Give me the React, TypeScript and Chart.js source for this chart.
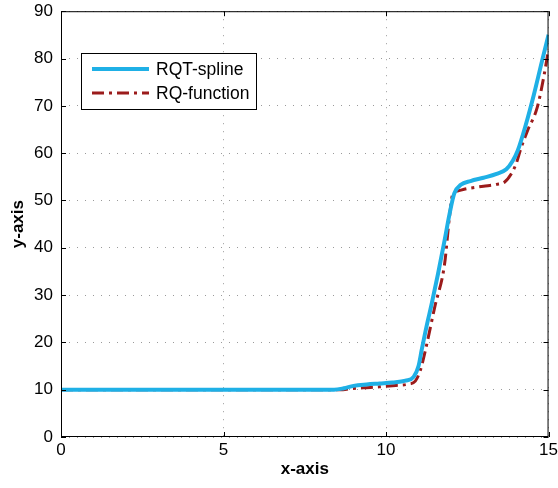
import React, { useEffect, useRef } from "react";
import { Chart, registerables } from "chart.js";

Chart.register(...registerables);

const splineX = [0, 8.4, 8.7, 9.0, 9.4, 9.8, 10.2, 10.6, 10.85, 11.0, 11.1, 11.25, 11.4, 11.6, 11.8, 11.95, 12.1, 12.3, 12.6, 13.0, 13.4, 13.7, 13.9, 14.05, 14.3, 14.55, 14.8, 15];
const splineY = [10, 10, 10.3, 10.8, 11.1, 11.3, 11.5, 11.9, 12.7, 15, 18.5, 23.5, 28, 34.5, 41.5, 47, 51.5, 53.3, 54.1, 54.8, 55.6, 56.6, 58.4, 60.5, 66, 72.4, 79.5, 85];

const funcX = [0, 8.6, 8.9, 9.3, 9.8, 10.3, 10.7, 10.9, 11.05, 11.2, 11.5, 11.8, 11.95, 12.05, 12.2, 12.5, 13.0, 13.4, 13.65, 13.85, 14.0, 14.15, 14.35, 14.65, 14.85, 15];
const funcY = [10, 10, 10.2, 10.4, 10.6, 10.9, 11.2, 11.8, 14, 18, 27.5, 36.5, 46.4, 51.3, 52.0, 52.5, 53.0, 53.4, 53.9, 55.6, 57.7, 61, 64.7, 69.6, 76, 82];

const xTicks = [0, 5, 10, 15];
const yTicks = [0, 10, 20, 30, 40, 50, 60, 70, 80, 90];
const seriesNames = ["RQT-spline", "RQ-function"];

const BLUE = "#1fb0e6";
const RED = "#9b1b1b";
const RED_DASH = [12, 5, 3, 5];
const FONT = "'Liberation Sans', Arial, sans-serif";
const OFFSET_Y = 7;

const framePlugin = {
  id: "frame",
  afterDatasetsDraw(chart: any) {
    const { ctx, chartArea } = chart;
    const { left, right, top, bottom } = chartArea;
    const xs = chart.scales.x;
    const ys = chart.scales.y;
    ctx.save();
    ctx.strokeStyle = "#000";
    ctx.lineWidth = 1;
    ctx.setLineDash([]);
    ctx.strokeRect(left + 0.5, top + 0.5, right - left - 1, bottom - top - 1);
    const tl = 5;
    ctx.beginPath();
    for (const v of xTicks) {
      const px = Math.round(xs.getPixelForValue(v)) + 0.5;
      ctx.moveTo(px, bottom);
      ctx.lineTo(px, bottom - tl);
      ctx.moveTo(px, top);
      ctx.lineTo(px, top + tl);
    }
    for (const v of yTicks) {
      const py = Math.round(ys.getPixelForValue(v)) + 0.5;
      ctx.moveTo(left, py);
      ctx.lineTo(left + tl, py);
      ctx.moveTo(right, py);
      ctx.lineTo(right - tl, py);
    }
    ctx.stroke();

    // legend box (page coordinates shifted by canvas offset)
    const oy = OFFSET_Y;
    const bx = 81, by = 53 + oy, bw = 175, bh = 56;
    ctx.fillStyle = "#fff";
    ctx.fillRect(bx, by, bw, bh);
    ctx.strokeRect(bx + 0.5, by + 0.5, bw, bh);
    ctx.lineWidth = 4;
    ctx.strokeStyle = BLUE;
    ctx.beginPath();
    ctx.moveTo(92, 69 + oy);
    ctx.lineTo(149, 69 + oy);
    ctx.stroke();
    ctx.lineWidth = 3;
    ctx.strokeStyle = RED;
    ctx.setLineDash(RED_DASH);
    ctx.beginPath();
    ctx.moveTo(92, 93 + oy);
    ctx.lineTo(149, 93 + oy);
    ctx.stroke();
    ctx.setLineDash([]);
    ctx.fillStyle = "#000";
    ctx.font = `17.5px ${FONT}`;
    ctx.textBaseline = "middle";
    ctx.textAlign = "left";
    ctx.fillText(seriesNames[0], 156, 70 + oy);
    ctx.fillText(seriesNames[1], 156, 94 + oy);
    ctx.restore();
  },
};

export default function App() {
  const ref = useRef<HTMLCanvasElement>(null);
  useEffect(() => {
    if (!ref.current) return;
    const chart = new Chart(ref.current, {
      type: "line",
      data: {
        datasets: [
          {
            label: seriesNames[0],
            data: splineX.map((x, i) => ({ x, y: splineY[i] })),
            borderColor: BLUE,
            borderWidth: 4,
            pointRadius: 0,
            cubicInterpolationMode: "monotone",
            fill: false,
          },
          {
            label: seriesNames[1],
            data: funcX.map((x, i) => ({ x, y: funcY[i] })),
            borderColor: RED,
            borderWidth: 3,
            borderDash: RED_DASH,
            pointRadius: 0,
            cubicInterpolationMode: "monotone",
            fill: false,
          },
        ],
      },
      options: {
        responsive: false,
        animation: false,
        layout: { padding: { top: 3, right: 7, left: 0, bottom: 0 } },
        plugins: { legend: { display: false }, tooltip: { enabled: false } },
        scales: {
          x: {
            type: "linear",
            min: 0,
            max: 15,
            afterBuildTicks: (s: any) => {
              s.ticks = xTicks.map((v) => ({ value: v }));
            },
            afterFit: (s: any) => {
              s.height = 51;
            },
            ticks: { color: "#000", font: { family: FONT, size: 17 }, padding: 3, maxRotation: 0 },
            grid: { color: "#9a9a9a", lineWidth: 1, drawTicks: false },
            border: { display: false, dash: [1, 7] },
            title: {
              display: true,
              text: "x-axis",
              color: "#000",
              font: { family: FONT, size: 17, weight: "bold" },
              padding: { top: 0, bottom: 8 },
            },
          },
          y: {
            type: "linear",
            min: 0,
            max: 90,
            afterBuildTicks: (s: any) => {
              s.ticks = yTicks.map((v) => ({ value: v }));
            },
            afterFit: (s: any) => {
              s.width = 61;
            },
            ticks: { color: "#000", font: { family: FONT, size: 17 }, padding: 8 },
            grid: { color: "#9a9a9a", lineWidth: 1, drawTicks: false },
            border: { display: false, dash: [1, 7] },
            title: {
              display: true,
              text: "y-axis",
              color: "#000",
              font: { family: FONT, size: 17, weight: "bold" },
              padding: { top: 8, bottom: 0 },
            },
          },
        },
      },
      plugins: [framePlugin],
    } as any);
    return () => chart.destroy();
  }, []);
  return (
    <div style={{ position: "fixed", left: 0, top: 0, width: 558, height: 488, background: "#fff", overflow: "hidden" }}>
      <canvas ref={ref} width={561} height={488 + OFFSET_Y} style={{ position: "absolute", left: 0, top: -OFFSET_Y }} />
    </div>
  );
}
